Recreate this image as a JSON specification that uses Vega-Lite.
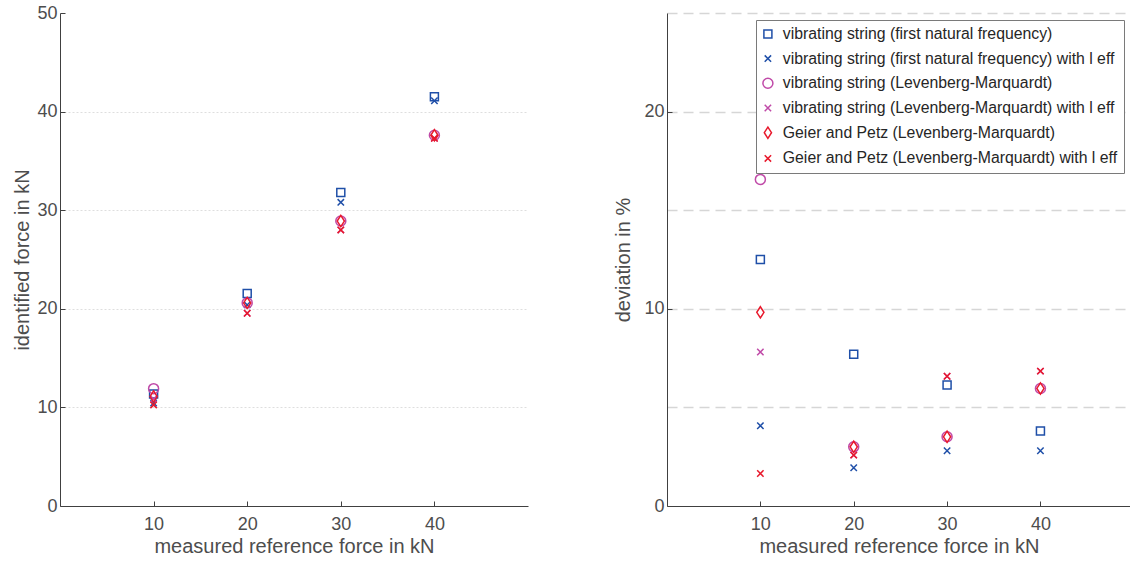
{
  "$schema": "https://vega.github.io/schema/vega-lite/v6.json",
  "padding": {"left": 12, "top": 4, "right": 0, "bottom": 0},
  "background": "white",
  "config": {
    "view": {"stroke": null},
    "font": "Liberation Sans",
    "axis": {
      "labelFont": "Liberation Sans",
      "labelFontSize": 18,
      "labelColor": "#4d4d4d",
      "titleFont": "Liberation Sans",
      "titleFontSize": 20,
      "titleFontWeight": "normal",
      "titleColor": "#4d4d4d",
      "domainColor": "#404040",
      "tickColor": "#404040",
      "tickSize": -5,
      "labelPadding": 8
    },
    "axisX": {"labelPadding": 14, "titlePadding": 3},
    "axisY": {"titlePadding": 4},
    "legend": {
      "orient": "top-right",
      "offset": 7,
      "labelFont": "Liberation Sans",
      "labelFontSize": 15.8,
      "labelColor": "#262626",
      "labelLimit": 600,
      "padding": 6,
      "rowPadding": 7.7,
      "symbolOffset": -2,
      "labelOffset": 7,
      "symbolSize": 64,
      "symbolStrokeWidth": 1.5,
      "strokeColor": "#7a7a7a",
      "fillColor": "white"
    }
  },
  "data": {
    "values": [
      {"ref": 10, "series": "vibrating string (first natural frequency)", "force": 11.35, "dev": 12.5},
      {"ref": 20, "series": "vibrating string (first natural frequency)", "force": 21.55, "dev": 7.7},
      {"ref": 30, "series": "vibrating string (first natural frequency)", "force": 31.8, "dev": 6.13},
      {"ref": 40, "series": "vibrating string (first natural frequency)", "force": 41.5, "dev": 3.8},
      {"ref": 10, "series": "vibrating string (first natural frequency) with l eff", "force": 10.45, "dev": 4.07},
      {"ref": 20, "series": "vibrating string (first natural frequency) with l eff", "force": 20.4, "dev": 1.94},
      {"ref": 30, "series": "vibrating string (first natural frequency) with l eff", "force": 30.8, "dev": 2.8},
      {"ref": 40, "series": "vibrating string (first natural frequency) with l eff", "force": 41.1, "dev": 2.8},
      {"ref": 10, "series": "vibrating string (Levenberg-Marquardt)", "force": 11.9, "dev": 16.56},
      {"ref": 20, "series": "vibrating string (Levenberg-Marquardt)", "force": 20.6, "dev": 3.0},
      {"ref": 30, "series": "vibrating string (Levenberg-Marquardt)", "force": 28.9, "dev": 3.51},
      {"ref": 40, "series": "vibrating string (Levenberg-Marquardt)", "force": 37.6, "dev": 5.96},
      {"ref": 10, "series": "vibrating string (Levenberg-Marquardt) with l eff", "force": 10.85, "dev": 7.81},
      {"ref": 20, "series": "vibrating string (Levenberg-Marquardt) with l eff", "force": 19.55, "dev": 2.58},
      {"ref": 30, "series": "vibrating string (Levenberg-Marquardt) with l eff", "force": 28.0, "dev": 6.58},
      {"ref": 40, "series": "vibrating string (Levenberg-Marquardt) with l eff", "force": 37.3, "dev": 6.84},
      {"ref": 10, "series": "Geier and Petz (Levenberg-Marquardt)", "force": 11.1, "dev": 9.82},
      {"ref": 20, "series": "Geier and Petz (Levenberg-Marquardt)", "force": 20.6, "dev": 3.0},
      {"ref": 30, "series": "Geier and Petz (Levenberg-Marquardt)", "force": 28.9, "dev": 3.51},
      {"ref": 40, "series": "Geier and Petz (Levenberg-Marquardt)", "force": 37.6, "dev": 5.96},
      {"ref": 10, "series": "Geier and Petz (Levenberg-Marquardt) with l eff", "force": 10.25, "dev": 1.65},
      {"ref": 20, "series": "Geier and Petz (Levenberg-Marquardt) with l eff", "force": 19.55, "dev": 2.58},
      {"ref": 30, "series": "Geier and Petz (Levenberg-Marquardt) with l eff", "force": 28.0, "dev": 6.58},
      {"ref": 40, "series": "Geier and Petz (Levenberg-Marquardt) with l eff", "force": 37.3, "dev": 6.84}
    ]
  },
  "spacing": 85,
  "resolve": {"scale": {"color": "independent", "shape": "independent", "y": "independent", "x": "independent"}},
  "hconcat": [
    {
      "width": 468,
      "height": 493,
      "mark": {"type": "point", "filled": false, "strokeWidth": 1.5, "size": 64, "opacity": 1},
      "encoding": {
        "x": {
          "field": "ref", "type": "quantitative",
          "scale": {"domain": [0, 50], "nice": false, "zero": false},
          "axis": {"values": [10, 20, 30, 40], "grid": false, "title": "measured reference force in kN"}
        },
        "y": {
          "field": "force", "type": "quantitative",
          "scale": {"domain": [0, 50], "nice": false},
          "axis": {
            "values": [0, 10, 20, 30, 40, 50],
            "grid": true,
            "gridDash": [2, 2],
            "gridColor": {"condition": {"test": "datum.value == 0 || datum.value == 50", "value": "transparent"}, "value": "#dedede"},
            "title": "identified force in kN"
          }
        },
        "color": {
          "field": "series", "type": "nominal", "legend": null,
          "scale": {
            "domain": [
              "vibrating string (first natural frequency)",
              "vibrating string (first natural frequency) with l eff",
              "vibrating string (Levenberg-Marquardt)",
              "vibrating string (Levenberg-Marquardt) with l eff",
              "Geier and Petz (Levenberg-Marquardt)",
              "Geier and Petz (Levenberg-Marquardt) with l eff"
            ],
            "range": ["#1f4fa8", "#1f4fa8", "#c04aa8", "#c04aa8", "#e8192c", "#e8192c"]
          }
        },
        "shape": {
          "field": "series", "type": "nominal", "legend": null,
          "scale": {
            "domain": [
              "vibrating string (first natural frequency)",
              "vibrating string (first natural frequency) with l eff",
              "vibrating string (Levenberg-Marquardt)",
              "vibrating string (Levenberg-Marquardt) with l eff",
              "Geier and Petz (Levenberg-Marquardt)",
              "Geier and Petz (Levenberg-Marquardt) with l eff"
            ],
            "range": [
              "M-1,-1H1V1H-1Z",
              "M-0.8,-0.8L0.8,0.8M-0.8,0.8L0.8,-0.8",
              "M1.25,0A1.25,1.25,0,1,1,-1.25,0A1.25,1.25,0,1,1,1.25,0Z",
              "M-0.8,-0.8L0.8,0.8M-0.8,0.8L0.8,-0.8",
              "M0,-1.4L0.9,0L0,1.4L-0.9,0Z",
              "M-0.8,-0.8L0.8,0.8M-0.8,0.8L0.8,-0.8"
            ]
          }
        }
      }
    },
    {
      "width": 464,
      "height": 493,
      "mark": {"type": "point", "filled": false, "strokeWidth": 1.5, "size": 64, "opacity": 1},
      "encoding": {
        "x": {
          "field": "ref", "type": "quantitative",
          "scale": {"domain": [0, 49.7], "nice": false, "zero": false},
          "axis": {"values": [10, 20, 30, 40], "grid": false, "title": "measured reference force in kN"}
        },
        "y": {
          "field": "dev", "type": "quantitative",
          "scale": {"domain": [0, 25], "nice": false},
          "axis": {
            "values": [0, 5, 10, 15, 20, 25],
            "labelExpr": "datum.value % 10 == 0 ? datum.label : ''",
            "tickColor": {"condition": {"test": "datum.value % 10 != 0", "value": "transparent"}, "value": "#404040"},
            "grid": true,
            "gridDash": [10, 6],
            "gridWidth": 1.5,
            "gridColor": {"condition": {"test": "datum.value == 0", "value": "transparent"}, "value": "#d6d6d6"},
            "titlePadding": 10,
            "title": "deviation in %"
          }
        },
        "color": {
          "field": "series", "type": "nominal", "title": null,
          "scale": {
            "domain": [
              "vibrating string (first natural frequency)",
              "vibrating string (first natural frequency) with l eff",
              "vibrating string (Levenberg-Marquardt)",
              "vibrating string (Levenberg-Marquardt) with l eff",
              "Geier and Petz (Levenberg-Marquardt)",
              "Geier and Petz (Levenberg-Marquardt) with l eff"
            ],
            "range": ["#1f4fa8", "#1f4fa8", "#c04aa8", "#c04aa8", "#e8192c", "#e8192c"]
          }
        },
        "shape": {
          "field": "series", "type": "nominal", "title": null,
          "scale": {
            "domain": [
              "vibrating string (first natural frequency)",
              "vibrating string (first natural frequency) with l eff",
              "vibrating string (Levenberg-Marquardt)",
              "vibrating string (Levenberg-Marquardt) with l eff",
              "Geier and Petz (Levenberg-Marquardt)",
              "Geier and Petz (Levenberg-Marquardt) with l eff"
            ],
            "range": [
              "M-1,-1H1V1H-1Z",
              "M-0.8,-0.8L0.8,0.8M-0.8,0.8L0.8,-0.8",
              "M1.25,0A1.25,1.25,0,1,1,-1.25,0A1.25,1.25,0,1,1,1.25,0Z",
              "M-0.8,-0.8L0.8,0.8M-0.8,0.8L0.8,-0.8",
              "M0,-1.4L0.9,0L0,1.4L-0.9,0Z",
              "M-0.8,-0.8L0.8,0.8M-0.8,0.8L0.8,-0.8"
            ]
          }
        }
      }
    }
  ]
}
